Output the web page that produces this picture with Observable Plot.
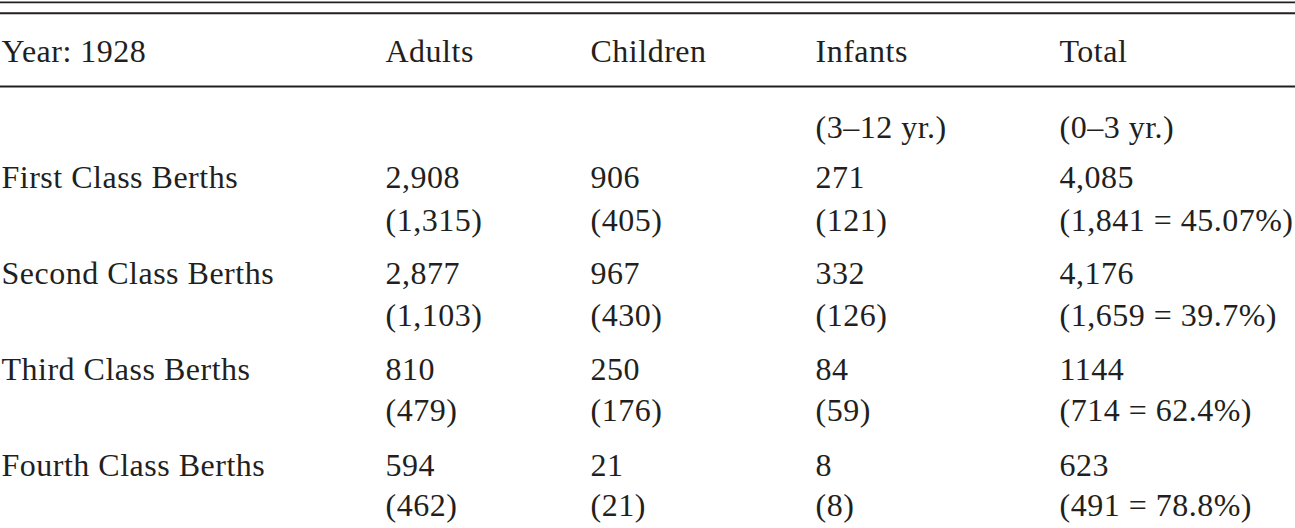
<!DOCTYPE html>
<html>
<head>
<meta charset="utf-8">
<script src="https://cdn.jsdelivr.net/npm/d3@7"></script>
<script src="https://cdn.jsdelivr.net/npm/@observablehq/plot@0.6"></script>
<style>
  html, body { margin: 0; padding: 0; background: #fff; }
  #chart svg { display: block; }
</style>
</head>
<body>
<div id="chart"></div>
<script>
// ---- table content ----
const columns = ["Year: 1928", "Adults", "Children", "Infants", "Total"];
const units = ["", "", "", "(3–12 yr.)", "(0–3 yr.)"];
const classes = ["First Class Berths", "Second Class Berths", "Third Class Berths", "Fourth Class Berths"];
const adults = ["2,908", "2,877", "810", "594"];
const adultsSub = ["(1,315)", "(1,103)", "(479)", "(462)"];
const children = ["906", "967", "250", "21"];
const childrenSub = ["(405)", "(430)", "(176)", "(21)"];
const infants = ["271", "332", "84", "8"];
const infantsSub = ["(121)", "(126)", "(59)", "(8)"];
const total = ["4,085", "4,176", "1144", "623"];
const totalSub = ["(1,841 = 45.07%)", "(1,659 = 39.7%)", "(714 = 62.4%)", "(491 = 78.8%)"];

// ---- layout slots (vertical order of lines) ----
const slots = ["ruleTop", "ruleTop2", "header", "ruleHead", "units",
  "c0", "c0s", "c1", "c1s", "c2", "c2s", "c3", "c3s"];
const slotPos = [1.8, 12.8, 61, 86, 137, 187, 230, 283, 325, 379, 420, 475, 515];
const colPos = [1, 385, 590, 815, 1059];

const cells = [];
columns.forEach((t, i) => cells.push({col: i, slot: slots.indexOf("header"), text: t}));
units.forEach((t, i) => { if (t) cells.push({col: i, slot: slots.indexOf("units"), text: t}); });
const body = [classes, adults, children, infants, total];
const bodySub = [null, adultsSub, childrenSub, infantsSub, totalSub];
classes.forEach((_, r) => {
  body.forEach((arr, c) => cells.push({col: c, slot: slots.indexOf("c" + r), text: arr[r]}));
  bodySub.forEach((arr, c) => { if (arr) cells.push({col: c, slot: slots.indexOf("c" + r + "s"), text: arr[r]}); });
});
const rules = [
  {slot: slots.indexOf("ruleTop"), w: 1.7},
  {slot: slots.indexOf("ruleTop2"), w: 2},
  {slot: slots.indexOf("ruleHead"), w: 2}
];

const ink = "#231f20";
const chart = Plot.plot({
  width: 1295,
  height: 528,
  margin: 0,
  style: {background: "#fff", color: ink, letterSpacing: "0.5px"},
  x: {type: "linear", domain: d3.range(columns.length), range: colPos, axis: null},
  y: {type: "linear", domain: d3.range(slots.length), range: slotPos, axis: null},
  marks: [
    Plot.ruleY(rules, {y: "slot", strokeWidth: "w", stroke: ink}),
    Plot.text(cells, {
      x: "col", y: "slot", text: "text",
      textAnchor: "start", lineAnchor: "bottom",
      fontFamily: "'Liberation Serif', 'Times New Roman', serif",
      fontSize: 32, fill: ink
    })
  ]
});
document.getElementById("chart").append(chart);
</script>
</body>
</html>
